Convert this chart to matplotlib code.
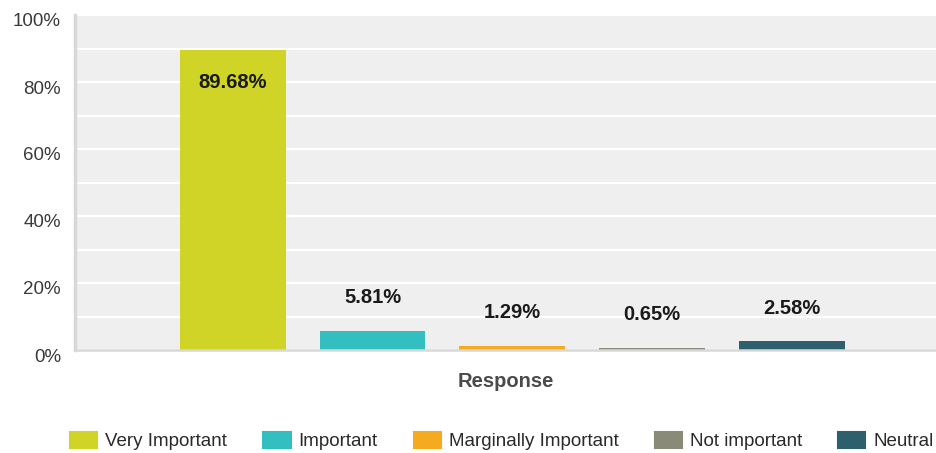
import matplotlib
matplotlib.use("Agg")
import matplotlib.pyplot as plt
from matplotlib.patches import Patch
from matplotlib.transforms import ScaledTranslation

# données
categories = ["Very Important", "Important", "Marginally Important", "Not important", "Neutral"]
values = [89.68, 5.81, 1.29, 0.65, 2.58]
colors = ["#cfd427", "#33bfc0", "#f5ab1f", "#898a77", "#2d5f6d"]
y_ticks = [0, 20, 40, 60, 80, 100]
y_tick_labels = ["0%", "20%", "40%", "60%", "80%", "100%"]
x_label = "Response"

plt.rcParams["font.family"] = ["Liberation Sans", "DejaVu Sans"]

fig = plt.figure(figsize=(9.37, 4.53), dpi=100)
ax = fig.add_axes([75 / 937, 1 - 350 / 453, 1 - 75 / 937, (350 - 15) / 453])
ax.set_facecolor("#efefef")

x = list(range(len(categories)))
ax.bar(x, values, width=0.757, color=colors, zorder=3)

for xi, v in zip(x, values):
    off = -24 if v > 50 else 24
    ax.annotate(f"{v:.2f}%", (xi, v), xytext=(0, off), textcoords="offset points",
                ha="center", va="center", fontsize=14.5, fontweight="bold",
                color="#1a1a1a", zorder=4)

ax.set_xlim(-1.13, 5.04)
ax.set_ylim(0, 100)
ax.set_yticks(y_ticks)
ax.set_yticklabels(y_tick_labels)
ax.set_yticks(range(0, 101, 10), minor=True)
ax.grid(axis="y", which="both", color="white", linewidth=1.6, zorder=1)
ax.set_axisbelow(True)
ax.set_xticks([])
ax.tick_params(axis="y", which="both", length=0, pad=10, labelsize=13.5, labelcolor="#3a3a3a")
# les étiquettes sont légèrement décalées vers le bas dans l'original
for lbl in ax.get_yticklabels():
    lbl.set_transform(lbl.get_transform() + ScaledTranslation(0, -5 / 100, fig.dpi_scale_trans))

for side in ["top", "right"]:
    ax.spines[side].set_visible(False)
ax.spines["left"].set_color("#d8d8d8")
ax.spines["left"].set_linewidth(2.5)
ax.spines["bottom"].set_color("#d8d8d8")
ax.spines["bottom"].set_linewidth(1.8)
ax.spines["bottom"].set_zorder(5)

ax.set_xlabel(x_label, fontsize=14.5, fontweight="bold", color="#4a4a4a", labelpad=16)

handles = [Patch(facecolor=c, edgecolor=c, linewidth=1.5, joinstyle="round") for c in colors]
fig.legend(handles, categories, loc="center", bbox_to_anchor=(502 / 937, 1 - 441 / 453), ncol=5,
           frameon=False, fontsize=13.5, handletextpad=0.43, columnspacing=1.92,
           handlelength=1.45, handleheight=0.95, labelcolor="#2a2a2a",
           borderaxespad=0, borderpad=0)

fig.savefig("out.png", dpi=100)
